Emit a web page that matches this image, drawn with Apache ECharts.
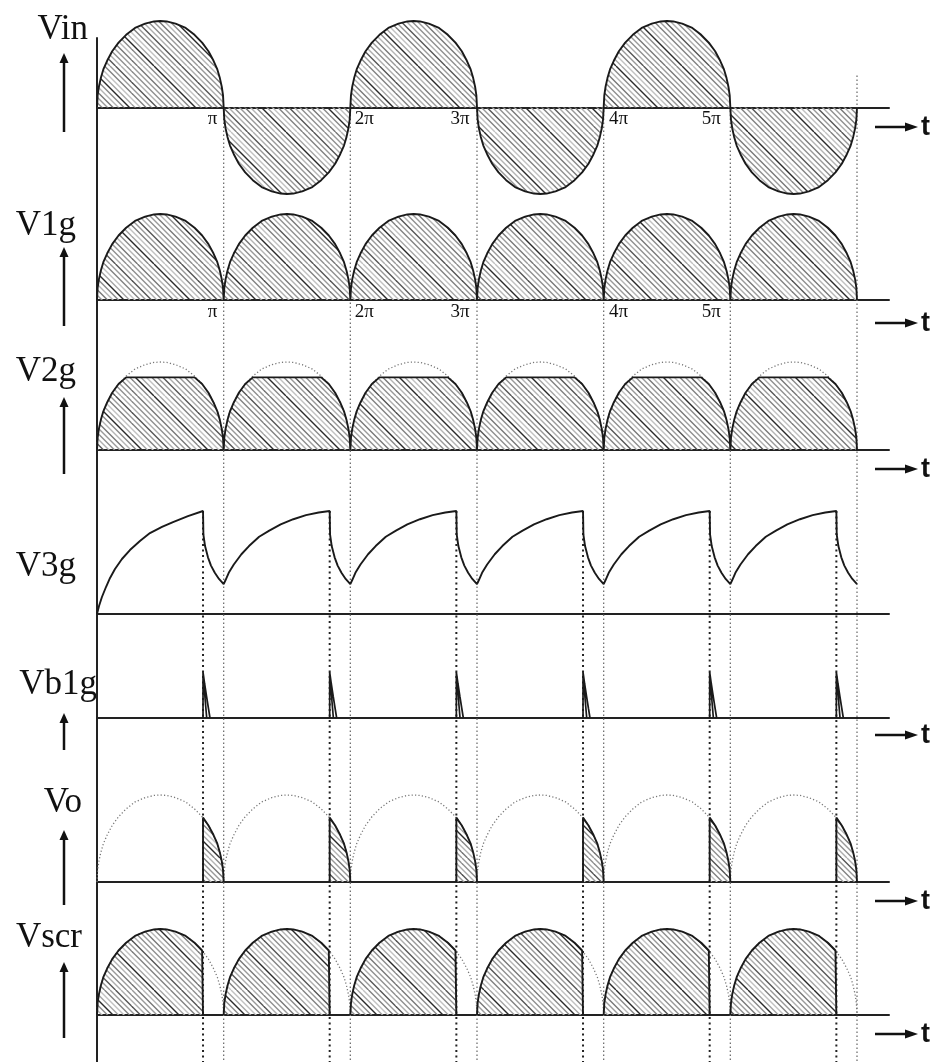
<!DOCTYPE html>
<html>
<head>
<meta charset="utf-8">
<script src="https://cdn.jsdelivr.net/npm/echarts@6/dist/echarts.min.js"></script>
<style>
html,body{margin:0;padding:0;background:#fff;}
#c{width:945px;height:1062px;}
</style>
</head>
<body>
<div id="c"></div>
<script>
// ---------------- DATA ----------------
// x is measured in units of π (one half-cycle = 1)
const halfCycleStarts = [0, 1, 2, 3, 4, 5];
const vinPolarity     = [1, -1, 1, -1, 1, -1];

// shape of one half-cycle arch (position inside the half-cycle, relative height)
const archU = [0, .005, .015, .03, .05, .08, .12, .17, .23, .3, .38, .45, .5, .55, .62, .7, .77, .83, .88, .92, .95, .97, .985, .995, 1];
const archV = [0, .14, .24, .34, .44, .54, .65, .75, .84, .92, .97, .995, 1, .995, .97, .92, .84, .75, .65, .54, .44, .34, .24, .14, 0];

const firingU     = 0.837;   // SCR firing point inside each half-cycle
const firingLevel = 0.74;    // arch height at the firing point
const v2gClipLevel = 0.825;  // clipped (zener) level of V2g

// V3g : first charge from zero, later charges from the trough, and the discharge
const v3gFirstU = [0, .016, .039, .071, .103, .142, .197, .26, .339, .418, .513, .6, .718, .837];
const v3gFirstV = [0, .078, .165, .262, .35, .437, .534, .621, .709, .786, .845, .893, .951, 1.0];
const v3gRiseU  = [0, .015, .04, .08, .14, .2, .28, .36, .45, .55, .65, .75, .837];
const v3gRiseV  = [.29, .33, .40, .48, .58, .66, .75, .81, .87, .92, .96, .985, 1.0];
const v3gFallU  = [.837, .84, .853, .876, .9, .93, .963, 1];
const v3gFallV  = [1.0, .77, .66, .55, .47, .40, .34, .29];

// Vb1g trigger pulse
const vbOuterU = [.837, .837, .85, .865, .88, .892];
const vbOuterV = [0, .92, .68, .43, .19, 0];
const vbInnerU = [.837, .866];
const vbInnerV = [.88, 0];

const piTickLabels = ['π', '2π', '3π', '4π', '5π'];
const panelLabels  = ['Vin', 'V1g', 'V2g', 'V3g', 'Vb1g', 'Vo', 'Vscr'];

// ---------------- LAYOUT / STYLE ----------------
const GRID_LEFT = 97, GRID_W = 792, X_MAX = 6.2526;
const panelBoxes = [
  {top: 21, height: 173}, {top: 214, height: 86}, {top: 362, height: 88},
  {top: 511, height: 103}, {top: 668, height: 50}, {top: 795, height: 87},
  {top: 929, height: 86}
];
const overlayBox = {top: 38, height: 1024};
const vinLabelBox = {top: 21, height: 86};   // upper half of the Vin panel, its bottom is the Vin time axis
const piLabelShift = [-11, 14, -17, 15, -19];
const piGuideTopVin = [-0.035, -0.035, -0.035, -0.035, -0.035, 0.37];
const labelPos = [
  {x: 88, y: 30}, {x: 76, y: 226}, {x: 76, y: 372}, {x: 76, y: 567},
  {x: 97, y: 685}, {x: 82, y: 803}, {x: 82, y: 938}
];
const upArrows = [[53, 132], [247, 326], [397, 474], [713, 750], [830, 905], [962, 1038]];
const tArrowsY = [127, 323, 469, 735, 901, 1034];
const INK = '#1a1a1a';
const SERIF = '"Liberation Serif","Times New Roman",serif';

// ---------------- helpers ----------------
const pts = (us, vs) => us.map((u, i) => [u, vs[i]]);
const shift = (p, k, s = 1) => p.map(([u, v]) => [k + u, s * v]);
const BREAK = [null, null];

const archPts = pts(archU, archV);

function makeHatch() {
  const n = 12, step = 5.5, size = n * step;
  const c = document.createElement('canvas');
  c.width = c.height = size;
  const g = c.getContext('2d');
  const shades = ['#9a9a9a','#777','#b5b5b5','#8a8a8a','#2a2a2a','#a5a5a5','#c2c2c2','#808080','#999','#555','#aeaeae','#8e8e8e'];
  for (let i = -n; i < 2 * n; i++) {
    const c0 = i * step;
    g.strokeStyle = shades[((i % n) + n) % n];
    g.lineWidth = 1.4;
    g.beginPath(); g.moveTo(c0, 0); g.lineTo(c0 + size, size); g.stroke();
  }
  return c;
}
const hatch = {image: makeHatch(), repeat: 'repeat'};

// ---------------- series data ----------------
const vinData = halfCycleStarts.flatMap((k, i) => shift(archPts, k, vinPolarity[i]));
const rectData = halfCycleStarts.flatMap(k => shift(archPts, k));
const v2gSolid = halfCycleStarts.flatMap(k => shift(archPts.map(([u, v]) => [u, Math.min(v, v2gClipLevel)]), k));
const v3gData = halfCycleStarts.flatMap(k => [
  ...shift(k === 0 ? pts(v3gFirstU, v3gFirstV) : pts(v3gRiseU, v3gRiseV), k),
  ...shift(pts(v3gFallU, v3gFallV), k)
]);
const vbData = halfCycleStarts.flatMap(k => [
  ...shift(pts(vbOuterU, vbOuterV), k), BREAK,
  ...shift(pts(vbInnerU, vbInnerV), k), BREAK
]);
const voSolid = halfCycleStarts.flatMap(k => [
  ...shift([[firingU, 0], [firingU, firingLevel], ...archPts.filter(p => p[0] > firingU)], k), BREAK
]);
const vscrSolid = halfCycleStarts.flatMap(k => [
  ...shift([...archPts.filter(p => p[0] < firingU), [firingU, firingLevel], [firingU, 0]], k), BREAK
]);

// ---------------- option ----------------
// grid 0..6 : panels, grid 7 : full-height overlay (left axis + guides), grid 8 : Vin tick labels
const boxes = [...panelBoxes, overlayBox, vinLabelBox];
const grids = boxes.map(b => ({
  left: GRID_LEFT, width: GRID_W, top: b.top, height: b.height,
  containLabel: false, outerBoundsMode: 'none'
}));

const rich = {};
piLabelShift.forEach((s, i) => {
  rich['s' + i] = {
    fontFamily: SERIF, fontSize: 19, color: '#111',
    padding: s < 0 ? [0, -2 * s, 0, 0] : [0, 0, 0, 2 * s]
  };
});
const piLabel = {
  show: true, margin: 3, interval: 0,
  formatter: v => {
    const r = Math.round(v);
    if (Math.abs(v - r) > 1e-6 || r < 1 || r > piTickLabels.length) return '';
    return '{s' + (r - 1) + '|' + piTickLabels[r - 1] + '}';
  },
  rich
};

const axisLineStyle = {color: '#222', width: 2};
const xAxes = boxes.map((b, i) => ({
  type: 'value', gridIndex: i, min: 0, max: X_MAX, interval: 1,
  show: i !== 7,
  axisLine: {show: i < 7, onZero: true, lineStyle: axisLineStyle},
  axisTick: {show: false}, splitLine: {show: false},
  axisLabel: (i === 1 || i === 8) ? piLabel : {show: false}
}));
const yAxes = boxes.map((b, i) => i === 7 ? ({
  type: 'value', gridIndex: i, min: 0, max: 1,
  axisLine: {show: true, lineStyle: axisLineStyle},
  axisTick: {show: false}, axisLabel: {show: false}, splitLine: {show: false}
}) : ({
  type: 'value', gridIndex: i, min: i === 0 ? -1 : 0, max: 1, show: false,
  splitLine: {show: false}
}));

const line = (gi, data, extra) => Object.assign({
  type: 'line', xAxisIndex: gi, yAxisIndex: gi, data,
  showSymbol: false, symbol: 'none', clip: false, silent: true, z: 3,
  connectNulls: false, animation: false,
  lineStyle: {color: INK, width: 1.9}
}, extra || {});
const hatchArea = {areaStyle: {color: hatch, opacity: 1, origin: 0}};
const dotted = {lineStyle: {color: '#777', width: 1.3, type: [1.2, 2.2]}, z: 2};

const series = [
  line(0, vinData, hatchArea),
  line(1, rectData, hatchArea),
  line(2, rectData, dotted),
  line(2, v2gSolid, hatchArea),
  line(3, v3gData),
  line(4, vbData, {lineStyle: {color: INK, width: 1.7}}),
  line(5, rectData, dotted),
  line(5, voSolid, hatchArea),
  line(6, rectData, dotted),
  line(6, vscrSolid, hatchArea)
];

// graphics: labels and arrows
const graphic = [];
panelLabels.forEach((t, i) => {
  graphic.push({
    type: 'text', x: labelPos[i].x, y: labelPos[i].y, silent: true,
    style: {text: t, font: '35px ' + SERIF, fill: '#111',
      textAlign: 'right', align: 'right', textVerticalAlign: 'middle', verticalAlign: 'middle'}
  });
});
upArrows.forEach(([top, bot]) => {
  graphic.push({type: 'line', silent: true, shape: {x1: 64, y1: top + 8, x2: 64, y2: bot},
    style: {stroke: '#111', lineWidth: 2.5}});
  graphic.push({type: 'polygon', silent: true, shape: {points: [[64, top], [59.5, top + 10], [68.5, top + 10]]},
    style: {fill: '#111'}});
});
tArrowsY.forEach(y => {
  graphic.push({type: 'line', silent: true, shape: {x1: 875, y1: y, x2: 908, y2: y},
    style: {stroke: '#111', lineWidth: 2.5}});
  graphic.push({type: 'polygon', silent: true, shape: {points: [[918, y], [905, y - 4.5], [905, y + 4.5]]},
    style: {fill: '#111'}});
  graphic.push({type: 'text', x: 921, y: y + 1, silent: true,
    style: {text: 't', font: 'bold 27px "Liberation Sans",Arial,sans-serif', fill: '#111',
      textAlign: 'left', align: 'left', textVerticalAlign: 'middle', verticalAlign: 'middle'}});
});

const option = {
  animation: false,
  backgroundColor: '#fff',
  grid: grids, xAxis: xAxes, yAxis: yAxes,
  series, graphic
};

const chart = echarts.init(document.getElementById('c'), null, {renderer: 'canvas'});
chart.setOption(option);

// dotted guide lines, placed with the library's own scales
const toOverlay = (gridIndex, x, y) => {
  const p = chart.convertToPixel({gridIndex}, [x, y]);
  return chart.convertFromPixel({gridIndex: 7}, p)[1];
};
const piGuides = [];
halfCycleStarts.forEach((k, i) => {
  const x = k + 1;
  piGuides.push([x, toOverlay(0, x, piGuideTopVin[i])], [x, 0], BREAK);
});
const alphaGuides = [];
halfCycleStarts.forEach(k => {
  const x = k + firingU;
  alphaGuides.push([x, toOverlay(3, x, 1.0)], [x, 0], BREAK);
});
chart.setOption({
  series: series.concat([
    line(7, piGuides, {z: 1, lineStyle: {color: '#707070', width: 1.3, type: [1.5, 2.5]}}),
    line(7, alphaGuides, {z: 1, lineStyle: {color: '#222', width: 2, type: [2, 3.5]}})
  ])
});
</script>
</body>
</html>
